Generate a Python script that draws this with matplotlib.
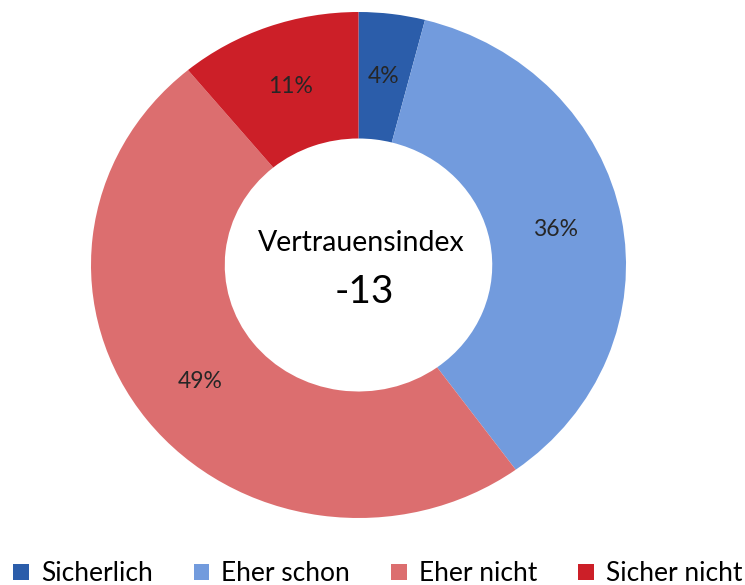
import matplotlib
matplotlib.use("Agg")
import matplotlib.pyplot as plt

plt.rcParams['font.family'] = ['Lato', 'DejaVu Sans']

# Data
categories = ["Sicherlich", "Eher schon", "Eher nicht", "Sicher nicht"]
values = [4, 36, 49, 11]
colors = ["#2b5daa", "#729bdd", "#dc6e6f", "#cc1f28"]
center_title = "Vertrauensindex"
center_value = "-13"

W, H = 745, 585
fig = plt.figure(figsize=(W / 100, H / 100), dpi=100)

# axes box sized so the ring is slightly wider than tall, like the reference
left, right, top, bottom = 91, 626, 12, 518
ax = fig.add_axes([left / W, (H - bottom) / H, (right - left) / W, (bottom - top) / H])

wedges, texts, autotexts = ax.pie(
    values, colors=colors, startangle=90, counterclock=False,
    radius=1.0, wedgeprops=dict(width=0.5, linewidth=0),
    autopct=lambda p: f"{p:.0f}%", pctdistance=0.75,
    textprops=dict(fontsize=16.5, color="#262626"),
)
ax.set_aspect('auto')
ax.set_xlim(-1, 1)
ax.set_ylim(-1, 1)
ax.axis('off')

ax.text(0.01, 0.085, center_title, ha='center', va='center', fontsize=20.5, color='black')
ax.text(0.02, -0.105, center_value, ha='center', va='center', fontsize=28, color='black')

fig.legend(wedges, categories, loc='center', bbox_to_anchor=(0.507, 0.019),
           ncol=4, frameon=False, fontsize=19, handlelength=0.6, handleheight=0.6,
           handletextpad=0.45, columnspacing=1.55, borderpad=0, borderaxespad=0)

fig.savefig("out.png", dpi=100)
